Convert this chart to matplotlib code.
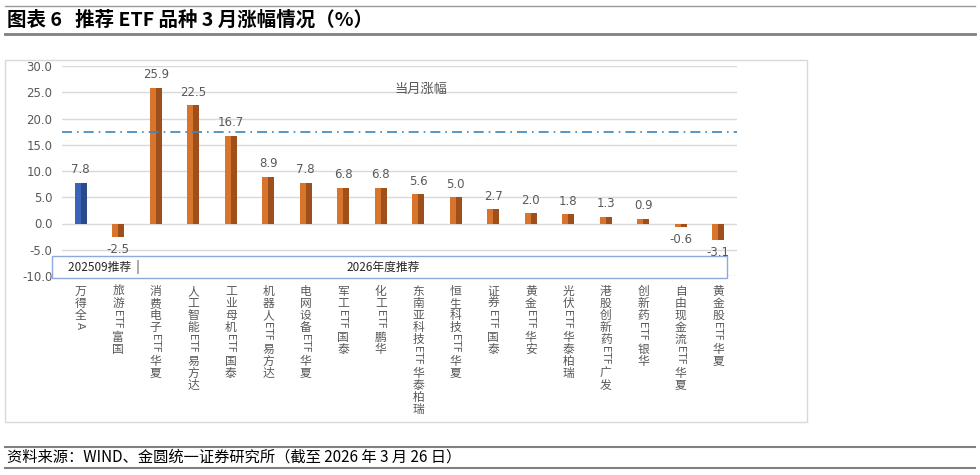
import numpy as np
import matplotlib
matplotlib.use('Agg')
import matplotlib.pyplot as plt
from matplotlib.patches import Rectangle
from matplotlib.lines import Line2D

plt.rcParams['font.family'] = ['Noto Sans CJK SC', 'DejaVu Sans']

# ==========================================
# DATA
# ==========================================
categories = ['万得全A', '旅游ETF富国', '消费电子ETF华夏', '人工智能ETF易方达',
              '工业母机ETF国泰', '机器人ETF易方达', '电网设备ETF华夏', '军工ETF国泰',
              '化工ETF鹏华', '东南亚科技ETF华泰柏瑞', '恒生科技ETF华夏', '证券ETF国泰',
              '黄金ETF华安', '光伏ETF华泰柏瑞', '港股创新药ETF广发', '创新药ETF银华',
              '自由现金流ETF华夏', '黄金股ETF华夏']
values = [7.8, -2.5, 25.9, 22.5, 16.7, 8.9, 7.8, 6.8, 6.8, 5.6, 5.0, 2.7,
          2.0, 1.8, 1.3, 0.9, -0.6, -3.1]
ref_line = 17.5
y_ticks = [-10, -5, 0, 5, 10, 15, 20, 25, 30]

title = '图表 6   推荐 ETF 品种 3 月涨幅情况（%）'
source = '资料来源：WIND、金圆统一证券研究所（截至 2026 年 3 月 26 日）'

# ==========================================
# FIGURE
# ==========================================
W, H = 980, 475
fig = plt.figure(figsize=(W / 100, H / 100), dpi=100)
ax = fig.add_axes([62 / W, 1 - 276 / H, 675 / W, 210 / H])
renderer = fig.canvas.get_renderer()

grey = '#595959'
x = np.arange(len(values))
w = 0.32

light = ['#3B63B8' if i == 0 else '#D8742C' for i in x]
dark = ['#2A4A8C' if i == 0 else '#9E501C' for i in x]
ax.bar(x - w / 4, values, w / 2, color=light, zorder=3)
ax.bar(x + w / 4, values, w / 2, color=dark, zorder=3)

for xi, v in zip(x, values):
    off = 13 if v >= 0 else -13
    ax.annotate(f'{v:.1f}', (xi, v), xytext=(0, off), textcoords='offset pixels',
                ha='center', va='center', fontsize=8.5, color=grey, zorder=6,
                family=['DejaVu Sans'])

ax.axhline(ref_line, color='#3A86C0', lw=1.2, ls=(0, (6, 3, 1, 3)), zorder=4)

ax.set_xlim(-0.5, len(values) - 0.5)
ax.set_ylim(-10, 30)
ax.set_yticks(y_ticks)
ax.set_yticklabels([f'{t:.1f}' for t in y_ticks], fontsize=8.5, color=grey,
                   family=['DejaVu Sans'])
ax.tick_params(axis='y', length=0, pad=7)
ax.set_xticks([])
ax.yaxis.grid(True, color='#D9D9D9', lw=1, zorder=0)
for s in ax.spines.values():
    s.set_visible(False)

ax.text(9.07, 25.6, '当月涨幅', ha='center', va='center', fontsize=9.5, color=grey)

# kotak label rekomendasi
ax.add_patch(Rectangle((-10 / 675, -2 / 210), 675 / 675, 22 / 210,
                       transform=ax.transAxes, fc='white', ec='#8EA9DB', lw=1,
                       clip_on=False, zorder=5))
ax.text(6 / 675, 9 / 210, '202509推荐  |', transform=ax.transAxes, ha='left',
        va='center', fontsize=8.5, color='#262626', zorder=6)
ax.text(321 / 675, 9 / 210, '2026年度推荐', transform=ax.transAxes, ha='center',
        va='center', fontsize=8.5, color='#262626', zorder=6)


# label sumbu X vertikal: huruf CJK tegak, huruf Latin diputar
def vertical_label(xi, label):
    y = -9
    runs = []
    for ch in label:
        if ord(ch) < 128:
            if runs and runs[-1][0] == 'lat':
                runs[-1][1] += ch
            else:
                runs.append(['lat', ch])
        else:
            runs.append(['cjk', ch])
    for kind, txt in runs:
        if kind == 'cjk':
            ax.annotate(txt, (xi, 0), xycoords=('data', 'axes fraction'),
                        xytext=(0, y), textcoords='offset pixels', ha='center',
                        va='top', fontsize=8.5, color=grey, annotation_clip=False)
            y -= 12
        else:
            t = ax.annotate(txt, (xi, 0), xycoords=('data', 'axes fraction'),
                            xytext=(-1, y - 1), textcoords='offset pixels',
                            ha='center', va='top', fontsize=7.5, color=grey,
                            rotation=270, rotation_mode='default',
                            annotation_clip=False, family=['DejaVu Sans'])
            h = t.get_window_extent(renderer).height
            y -= h + 3


for xi, lab in zip(x, categories):
    vertical_label(xi, lab)

# bingkai grafik
fig.add_artist(Rectangle((5 / W, 1 - 422 / H), 802 / W, 362 / H,
                         transform=fig.transFigure, fc='none', ec='#D9D9D9', lw=1))

# judul dan garis
fig.add_artist(Line2D([5 / W, 975 / W], [1 - 5.5 / H] * 2, color='#9A9A9A', lw=1))
fig.add_artist(Line2D([5 / W, 975 / W], [1 - 34 / H] * 2, color='#808080', lw=2))
fig.text(7 / W, 1 - 20 / H, title, ha='left', va='center', fontsize=14,
         fontweight='bold', color='black')

fig.add_artist(Line2D([5 / W, 975 / W], [1 - 447 / H] * 2, color='#808080', lw=1.5))
fig.add_artist(Line2D([5 / W, 975 / W], [1 - 468 / H] * 2, color='#808080', lw=1.5))
fig.text(7 / W, 1 - 457.5 / H, source, ha='left', va='center', fontsize=11,
         color='black')

fig.savefig('out.png', dpi=100)
